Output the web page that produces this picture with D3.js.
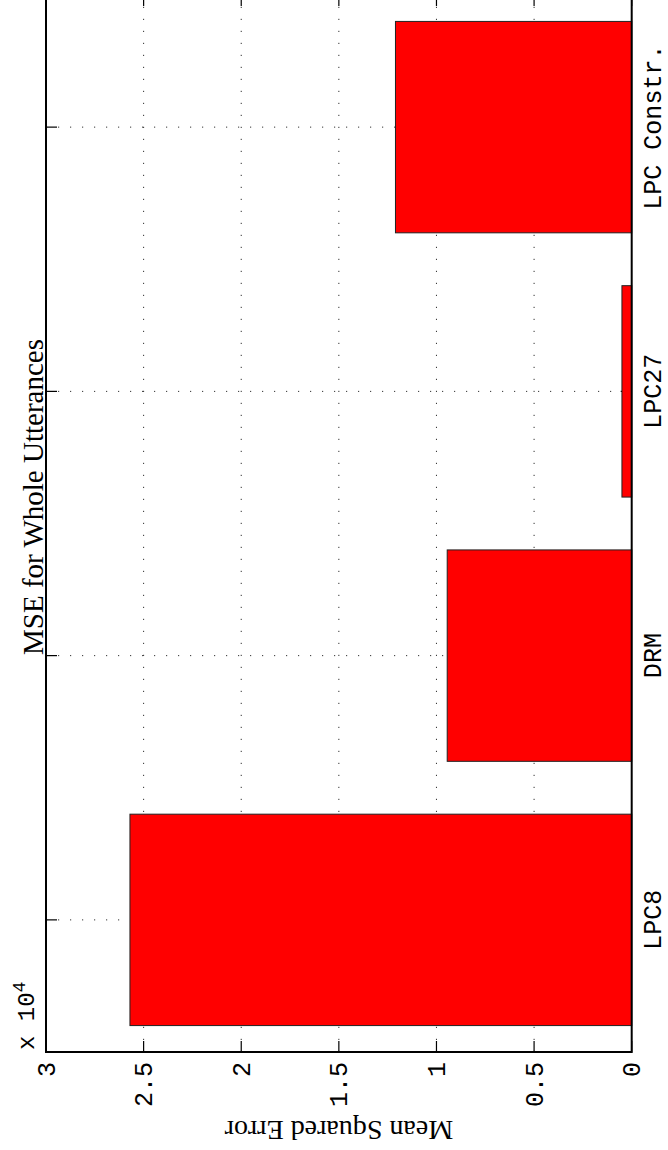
<!DOCTYPE html>
<html>
<head>
<meta charset="utf-8">
<script src="https://cdn.jsdelivr.net/npm/d3@7"></script>
<style>
  body { margin: 0; background: #fff; }
  #chart { width: 668px; height: 1150px; }
  .mono { font-family: "Liberation Mono", "Courier New", monospace; }
  .serif { font-family: "Liberation Serif", "Times New Roman", serif; }
</style>
</head>
<body>
<div id="chart"></div>
<script>
//Datos
const categories = ['LPC8', 'DRM', 'LPC27', 'LPC Constr.'];
const mseValues = [25700, 9450, 500, 12100];
const valueTicks = [0, 0.5, 1, 1.5, 2, 2.5, 3];
const exponent = 4;

//Colores
const COLOR_BAR = '#ff0000', COLOR_AXIS = '#000';

//La figura original es apaisada y va girada 90 grados
const W = 1150, H = 668;
let margin = {top: 46, right: 0, bottom: 668 - 631.7, left: 98};

let svg = d3.select('#chart')
    .append('svg')
      .attr('width', 668)
      .attr('height', 1150)
    .append('g')
      .attr('transform', 'translate(0,1150) rotate(-90)');

let x = d3.scaleBand()
    .domain(categories)
    .range([margin.left, 1155])
    .paddingInner(0.2)
    .paddingOuter(0.1);

let y = d3.scaleLinear()
    .domain([0, 3])
    .range([H - margin.bottom, margin.top]);

let x0 = margin.left, x1 = 1155, y0 = y(0), y1 = y(3);

//Rejilla punteada
let grid = svg.append('g').attr('stroke', '#333').attr('stroke-width', 1).attr('stroke-dasharray', '1.2,10.8');
grid.selectAll('.gy')
    .data(valueTicks.slice(1, -1))
    .enter().append('line')
    .attr('x1', x0).attr('x2', x1)
    .attr('y1', d => y(d)).attr('y2', d => y(d));
grid.selectAll('.gx')
    .data(categories)
    .enter().append('line')
    .attr('x1', d => x(d) + x.bandwidth() / 2).attr('x2', d => x(d) + x.bandwidth() / 2)
    .attr('y1', y1).attr('y2', y0);

//Marcas hacia dentro
let tickLen = 11;
let ticks = svg.append('g').attr('stroke', COLOR_AXIS).attr('stroke-width', 1.2);
valueTicks.forEach(function(d) {
    ticks.append('line').attr('x1', x0).attr('x2', x0 + tickLen).attr('y1', y(d)).attr('y2', y(d));
    ticks.append('line').attr('x1', x1).attr('x2', x1 - tickLen).attr('y1', y(d)).attr('y2', y(d));
});
categories.forEach(function(d) {
    let c = x(d) + x.bandwidth() / 2;
    ticks.append('line').attr('x1', c).attr('x2', c).attr('y1', y0).attr('y2', y0 - tickLen);
    ticks.append('line').attr('x1', c).attr('x2', c).attr('y1', y1).attr('y2', y1 + tickLen);
});

//Barras
svg.selectAll('.bars')
    .data(mseValues)
    .enter()
    .append('rect')
    .attr('class', 'bars')
    .attr('x', (d, i) => x(categories[i]))
    .attr('y', d => y(d / Math.pow(10, exponent)))
    .attr('width', x.bandwidth())
    .attr('height', d => y0 - y(d / Math.pow(10, exponent)))
    .attr('fill', COLOR_BAR)
    .attr('stroke', '#222')
    .attr('stroke-width', 1);

//Caja
svg.append('rect')
    .attr('x', x0).attr('y', y1)
    .attr('width', x1 - x0).attr('height', y0 - y1)
    .attr('fill', 'none')
    .attr('stroke', COLOR_AXIS)
    .attr('stroke-width', 2);

//Etiquetas de ejes
let yAxis = d3.axisLeft(y).tickValues(valueTicks).tickSize(0).tickPadding(10).tickFormat(d3.format(''));
svg.append('g')
    .attr('transform', 'translate(' + x0 + ',0)')
    .call(yAxis)
    .call(g => g.select('.domain').remove())
    .call(g => g.selectAll('text').attr('class', 'mono').attr('font-family', null).attr('font-size', 25).attr('fill', '#000'));

let xAxis = d3.axisBottom(x).tickSize(0).tickPadding(12);
svg.append('g')
    .attr('transform', 'translate(0,' + y0 + ')')
    .call(xAxis)
    .call(g => g.select('.domain').remove())
    .call(g => g.selectAll('text').attr('class', 'mono').attr('font-family', null).attr('font-size', 25).attr('fill', '#000'));

//Multiplicador
let mult = svg.append('text')
    .attr('class', 'mono')
    .attr('x', 100).attr('y', 34)
    .attr('font-size', 24)
    .text('x 10');
mult.append('tspan')
    .attr('font-size', 18)
    .attr('dy', -9)
    .text(exponent);

//Titulo
svg.append('text')
    .attr('class', 'serif')
    .attr('x', 1150 - 497).attr('y', 43)
    .attr('text-anchor', 'middle')
    .attr('font-size', 29)
    .text('MSE for Whole Utterances');

svg.append('text')
    .attr('class', 'serif')
    .attr('transform', 'translate(29,' + (y0 + y1) / 2 + ') rotate(-90)')
    .attr('text-anchor', 'middle')
    .attr('font-size', 28)
    .text('Mean Squared Error');
</script>
</body>
</html>
